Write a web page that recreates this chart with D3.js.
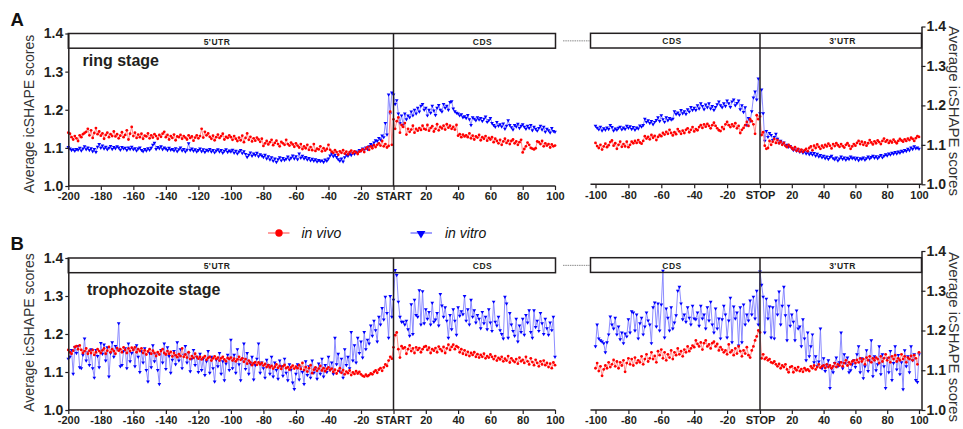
<!DOCTYPE html>
<html><head><meta charset="utf-8">
<script src="https://cdn.jsdelivr.net/npm/d3@7"></script>
<style>body{margin:0;background:#fff}svg{display:block;font-family:"Liberation Sans",Arial,sans-serif}</style>
</head><body><svg id="c" width="963" height="429"></svg>
<script>
// ---------------- data ----------------
const startPositions = d3.range(-200, 101);   // nt relative to START codon
const stopPositions = d3.range(-100, 101);    // nt relative to STOP codon
const startTicks = [-200,-180,-160,-140,-120,-100,-80,-60,-40,-20,0,20,40,60,80,100];
const startTickLabels = ["-200","-180","-160","-140","-120","-100","-80","-60","-40","-20","START","20","40","60","80","100"];
const stopTicks = [-100,-80,-60,-40,-20,0,20,40,60,80,100];
const stopTickLabels = ["-100","-80","-60","-40","-20","STOP","20","40","60","80","100"];
const yTicks = [1.0,1.1,1.2,1.3,1.4];
const startRegions = ["5'UTR","CDS"];
const stopRegions = ["CDS","3'UTR"];
const stageNames = ["ring stage","trophozoite stage"];
const panelLetters = ["A","B"];
const seriesNames = ["in vivo","in vitro"];
const yTitle = "Average icSHAPE scores";

const ringVivoStart = [
1.140,1.137,1.128,1.122,1.131,1.125,1.118,1.133,1.128,1.136,1.139,1.142,1.150,1.133,1.146,1.126,1.139,1.152,1.136,1.143,
1.132,1.138,1.124,1.134,1.140,1.128,1.136,1.131,1.143,1.130,1.136,1.125,1.132,1.141,1.128,1.134,1.146,1.122,1.137,1.155,
1.131,1.140,1.126,1.135,1.128,1.137,1.124,1.132,1.130,1.138,1.125,1.133,1.127,1.136,1.131,1.124,1.134,1.129,1.137,1.142,
1.128,1.134,1.122,1.131,1.126,1.135,1.120,1.130,1.128,1.134,1.124,1.131,1.127,1.122,1.133,1.126,1.130,1.119,1.127,1.133,
1.125,1.131,1.150,1.127,1.142,1.133,1.138,1.129,1.124,1.132,1.120,1.128,1.135,1.126,1.131,1.137,1.122,1.129,1.126,1.133,
1.128,1.121,1.131,1.124,1.118,1.127,1.120,1.132,1.115,1.126,1.138,1.121,1.129,1.117,1.125,1.119,1.127,1.122,1.116,1.124,
1.105,1.112,1.118,1.109,1.115,1.121,1.107,1.113,1.119,1.110,1.104,1.116,1.112,1.108,1.121,1.110,1.106,1.114,1.109,1.103,
1.112,1.106,1.101,1.110,1.097,1.104,1.099,1.108,1.095,1.102,1.094,1.110,1.092,1.098,1.096,1.104,1.091,1.099,1.093,1.097,
1.108,1.095,1.090,1.087,1.094,1.089,1.082,1.091,1.087,1.094,1.085,1.090,1.083,1.089,1.093,1.086,1.091,1.088,1.084,1.090,
1.092,1.096,1.089,1.098,1.102,1.095,1.104,1.099,1.107,1.102,1.108,1.112,1.106,1.118,1.104,1.110,1.101,1.105,1.195,1.108,
1.175,1.150,1.170,1.180,1.140,1.160,1.155,1.165,1.135,1.150,1.142,1.148,1.158,1.140,1.150,1.145,1.152,1.147,1.158,1.150,
1.148,1.160,1.145,1.152,1.157,1.143,1.150,1.162,1.146,1.155,1.151,1.158,1.148,1.162,1.153,1.158,1.150,1.155,1.148,1.160,
1.132,1.136,1.128,1.135,1.130,1.133,1.128,1.138,1.125,1.132,1.122,1.130,1.127,1.134,1.120,1.128,1.124,1.131,1.119,1.126,
1.122,1.128,1.115,1.124,1.118,1.112,1.121,1.108,1.117,1.124,1.113,1.119,1.110,1.118,1.122,1.112,1.117,1.108,1.115,1.121,
1.088,1.097,1.104,1.114,1.108,1.100,1.098,1.096,1.099,1.117,1.115,1.110,1.118,1.104,1.112,1.106,1.110,1.101,1.109,1.104,1.106];

const ringVitroStart = [
1.102,1.098,1.094,1.096,1.092,1.097,1.095,1.100,1.093,1.098,1.104,1.096,1.101,1.094,1.099,1.091,1.097,1.089,1.103,1.110,
1.100,1.106,1.098,1.103,1.096,1.100,1.105,1.097,1.102,1.099,1.104,1.101,1.095,1.102,1.098,1.100,1.094,1.101,1.097,1.103,
1.096,1.099,1.093,1.098,1.101,1.094,1.091,1.097,1.093,1.099,1.095,1.100,1.108,1.113,1.097,1.102,1.099,1.104,1.096,1.101,
1.098,1.094,1.100,1.095,1.097,1.093,1.099,1.091,1.096,1.101,1.093,1.097,1.090,1.095,1.112,1.094,1.098,1.092,1.096,1.090,
1.094,1.098,1.091,1.096,1.089,1.095,1.092,1.097,1.090,1.094,1.088,1.093,1.096,1.090,1.094,1.087,1.092,1.096,1.089,1.093,
1.090,1.095,1.087,1.092,1.085,1.090,1.094,1.086,1.091,1.084,1.076,1.082,1.088,1.079,1.085,1.081,1.087,1.078,1.083,1.080,
1.076,1.082,1.072,1.078,1.069,1.075,1.066,1.072,1.063,1.070,1.075,1.067,1.073,1.068,1.071,1.077,1.069,1.074,1.080,1.072,
1.078,1.070,1.085,1.074,1.079,1.072,1.076,1.069,1.073,1.067,1.071,1.066,1.070,1.064,1.068,1.065,1.067,1.063,1.069,1.066,
1.072,1.080,1.085,1.078,1.082,1.076,1.070,1.066,1.072,1.064,1.075,1.082,1.079,1.085,1.081,1.087,1.084,1.090,1.088,1.094,
1.092,1.098,1.094,1.101,1.097,1.104,1.110,1.106,1.114,1.120,1.118,1.126,1.122,1.132,1.128,1.165,1.135,1.240,1.190,1.245,
1.240,1.215,1.225,1.190,1.165,1.185,1.160,1.190,1.175,1.185,1.180,1.195,1.185,1.200,1.190,1.205,1.195,1.210,1.215,1.200,
1.205,1.185,1.200,1.192,1.210,1.198,1.186,1.205,1.212,1.200,1.195,1.215,1.205,1.210,1.200,1.220,1.222,1.203,1.196,1.192,
1.190,1.185,1.188,1.180,1.183,1.178,1.186,1.175,1.160,1.180,1.176,1.172,1.180,1.174,1.178,1.170,1.176,1.182,1.168,1.172,
1.178,1.165,1.160,1.155,1.168,1.158,1.162,1.156,1.164,1.150,1.158,1.172,1.160,1.154,1.148,1.160,1.156,1.163,1.152,1.158,
1.162,1.155,1.150,1.158,1.152,1.160,1.146,1.155,1.150,1.145,1.152,1.158,1.148,1.155,1.142,1.150,1.146,1.140,1.152,1.144,1.142];

const ringVivoStop = [
1.105,1.097,1.092,1.100,1.088,1.096,1.103,1.094,1.099,1.107,1.111,1.098,1.104,1.090,1.100,1.108,1.095,1.102,1.096,1.108,
1.094,1.100,1.108,1.104,1.110,1.105,1.112,1.106,1.103,1.110,1.122,1.116,1.120,1.114,1.125,1.118,1.123,1.112,1.120,1.125,
1.122,1.130,1.126,1.133,1.128,1.138,1.130,1.124,1.132,1.127,1.140,1.134,1.128,1.136,1.130,1.138,1.142,1.132,1.138,1.145,
1.134,1.140,1.137,1.145,1.150,1.143,1.152,1.146,1.153,1.148,1.142,1.150,1.156,1.148,1.142,1.137,1.135,1.145,1.140,1.152,
1.158,1.150,1.145,1.152,1.147,1.155,1.142,1.148,1.130,1.138,1.143,1.150,1.158,1.148,1.165,1.160,1.152,1.128,1.175,1.165,
1.172,1.125,1.132,1.098,1.090,1.092,1.110,1.100,1.108,1.115,1.105,1.112,1.104,1.108,1.100,1.105,1.098,1.094,1.100,1.096,
1.092,1.088,1.094,1.085,1.090,1.083,1.088,1.082,1.086,1.090,1.084,1.092,1.096,1.086,1.098,1.092,1.101,1.095,1.090,1.098,
1.093,1.100,1.096,1.103,1.098,1.091,1.102,1.097,1.104,1.099,1.095,1.102,1.097,1.093,1.100,1.104,1.098,1.090,1.096,1.102,
1.098,1.105,1.110,1.102,1.108,1.100,1.106,1.098,1.104,1.112,1.106,1.101,1.109,1.104,1.111,1.107,1.102,1.110,1.116,1.108,
1.112,1.105,1.110,1.106,1.113,1.108,1.104,1.110,1.115,1.111,1.108,1.114,1.110,1.116,1.112,1.118,1.115,1.110,1.117,1.122,1.120];

const ringVitroStop = [
1.148,1.143,1.139,1.146,1.136,1.142,1.138,1.144,1.140,1.150,1.145,1.136,1.141,1.138,1.143,1.146,1.139,1.144,1.140,1.148,
1.143,1.147,1.140,1.145,1.138,1.144,1.141,1.149,1.146,1.150,1.166,1.158,1.162,1.155,1.160,1.152,1.158,1.163,1.170,1.160,
1.175,1.165,1.158,1.170,1.162,1.168,1.164,1.166,1.185,1.178,1.182,1.176,1.188,1.180,1.185,1.178,1.190,1.184,1.196,1.188,
1.194,1.188,1.200,1.192,1.205,1.198,1.190,1.202,1.195,1.205,1.192,1.198,1.188,1.196,1.203,1.210,1.200,1.195,1.205,1.198,
1.212,1.205,1.196,1.210,1.215,1.200,1.206,1.212,1.190,1.200,1.183,1.195,1.150,1.168,1.160,1.185,1.220,1.235,1.215,1.268,
1.180,1.240,1.180,1.110,1.135,1.120,1.130,1.125,1.112,1.120,1.128,1.115,1.105,1.110,1.102,1.106,1.098,1.100,1.095,1.097,
1.092,1.087,1.090,1.085,1.088,1.082,1.086,1.080,1.084,1.078,1.082,1.076,1.080,1.075,1.079,1.072,1.077,1.070,1.074,1.068,
1.072,1.066,1.070,1.064,1.069,1.072,1.066,1.063,1.068,1.060,1.065,1.070,1.064,1.068,1.062,1.067,1.064,1.070,1.066,1.068,
1.063,1.067,1.061,1.066,1.064,1.068,1.062,1.066,1.070,1.065,1.069,1.072,1.067,1.071,1.066,1.070,1.074,1.068,1.072,1.076,
1.073,1.078,1.075,1.080,1.077,1.082,1.078,1.083,1.080,1.085,1.082,1.087,1.084,1.090,1.086,1.093,1.089,1.096,1.091,1.093,1.090];

const trophVivoStart = [
1.158,1.152,1.148,1.156,1.166,1.168,1.160,1.170,1.158,1.150,1.155,1.162,1.148,1.156,1.150,1.158,1.145,1.152,1.160,1.155,
1.150,1.157,1.162,1.148,1.156,1.166,1.152,1.160,1.155,1.148,1.163,1.156,1.160,1.152,1.165,1.158,1.150,1.162,1.155,1.164,
1.158,1.165,1.152,1.160,1.155,1.162,1.150,1.157,1.146,1.154,1.160,1.148,1.156,1.150,1.142,1.152,1.146,1.155,1.160,1.150,
1.146,1.155,1.148,1.153,1.141,1.150,1.144,1.139,1.147,1.142,1.162,1.140,1.146,1.138,1.152,1.134,1.142,1.137,1.148,1.140,
1.135,1.140,1.133,1.138,1.142,1.132,1.137,1.140,1.130,1.136,1.141,1.134,1.138,1.130,1.136,1.140,1.133,1.128,1.137,1.134,
1.138,1.130,1.135,1.128,1.133,1.140,1.132,1.136,1.127,1.134,1.122,1.130,1.125,1.118,1.123,1.126,1.119,1.125,1.120,1.124,
1.117,1.121,1.113,1.118,1.112,1.116,1.109,1.114,1.120,1.111,1.116,1.108,1.115,1.119,1.110,1.113,1.106,1.112,1.117,1.109,
1.114,1.110,1.118,1.108,1.124,1.105,1.113,1.101,1.110,1.118,1.097,1.106,1.112,1.103,1.109,1.116,1.104,1.110,1.102,1.108,
1.112,1.105,1.109,1.100,1.106,1.096,1.103,1.110,1.098,1.105,1.094,1.101,1.097,1.104,1.092,1.099,1.095,1.102,1.096,1.100,
1.094,1.090,1.088,1.093,1.089,1.092,1.096,1.094,1.100,1.104,1.098,1.106,1.110,1.103,1.112,1.120,1.116,1.130,1.140,1.135,
1.165,1.197,1.204,1.160,1.138,1.168,1.162,1.165,1.148,1.160,1.170,1.155,1.162,1.150,1.165,1.158,1.163,1.152,1.160,1.166,
1.168,1.158,1.164,1.150,1.160,1.156,1.163,1.152,1.167,1.160,1.155,1.166,1.150,1.162,1.172,1.158,1.166,1.172,1.160,1.168,
1.165,1.152,1.160,1.148,1.157,1.145,1.153,1.142,1.150,1.145,1.152,1.140,1.147,1.138,1.145,1.140,1.148,1.136,1.142,1.138,
1.146,1.140,1.134,1.142,1.130,1.137,1.133,1.140,1.128,1.135,1.130,1.142,1.125,1.136,1.130,1.126,1.134,1.122,1.138,1.128,
1.132,1.124,1.140,1.128,1.120,1.136,1.126,1.118,1.132,1.124,1.115,1.128,1.120,1.130,1.118,1.124,1.113,1.122,1.110,1.125,1.118];

const trophVitroStart = [
1.135,1.140,1.158,1.095,1.165,1.150,1.168,1.112,1.110,1.145,1.188,1.130,1.152,1.118,1.160,1.110,1.085,1.158,1.142,1.112,
1.176,1.148,1.172,1.130,1.165,1.088,1.150,1.178,1.140,1.168,1.160,1.228,1.115,1.118,1.155,1.162,1.110,1.175,1.128,1.150,
1.160,1.115,1.170,1.140,1.100,1.155,1.125,1.162,1.105,1.075,1.150,1.112,1.170,1.128,1.146,1.105,1.068,1.158,1.125,1.175,
1.108,1.165,1.142,1.098,1.132,1.155,1.120,1.178,1.130,1.160,1.110,1.145,1.168,1.125,1.150,1.102,1.135,1.158,1.118,1.140,
1.100,1.148,1.105,1.135,1.092,1.128,1.155,1.098,1.140,1.110,1.075,1.132,1.115,1.150,1.095,1.128,1.078,1.122,1.145,1.105,
1.185,1.110,1.145,1.098,1.160,1.120,1.078,1.135,1.175,1.108,1.150,1.095,1.122,1.140,1.080,1.118,1.135,1.175,1.098,1.125,
1.110,1.085,1.132,1.118,1.095,1.140,1.088,1.125,1.105,1.082,1.130,1.115,1.090,1.135,1.098,1.078,1.120,1.106,1.072,1.055,
1.095,1.120,1.080,1.112,1.100,1.068,1.128,1.092,1.115,1.085,1.130,1.098,1.110,1.082,1.122,1.095,1.135,1.088,1.118,1.100,
1.140,1.105,1.125,1.095,1.190,1.120,1.148,1.102,1.135,1.085,1.160,1.118,1.140,1.110,1.205,1.130,1.170,1.125,1.190,1.150,
1.180,1.138,1.205,1.160,1.185,1.175,1.222,1.195,1.235,1.210,1.180,1.245,1.225,1.268,1.238,1.298,1.255,1.190,1.300,1.245,
1.290,1.368,1.355,1.285,1.245,1.232,1.232,1.225,1.235,1.212,1.195,1.278,1.200,1.290,1.250,1.245,1.315,1.225,1.312,1.228,
1.265,1.240,1.258,1.225,1.282,1.232,1.238,1.255,1.222,1.305,1.275,1.245,1.270,1.235,1.190,1.250,1.212,1.265,1.235,1.198,
1.270,1.248,1.260,1.252,1.300,1.235,1.265,1.225,1.290,1.245,1.262,1.230,1.250,1.240,1.215,1.258,1.228,1.245,1.212,1.265,
1.230,1.208,1.285,1.232,1.222,1.245,1.210,1.200,1.188,1.298,1.280,1.190,1.255,1.225,1.208,1.195,1.240,1.180,1.222,1.205,
1.240,1.198,1.250,1.230,1.262,1.205,1.190,1.262,1.218,1.235,1.208,1.255,1.228,1.200,1.240,1.215,1.198,1.230,1.210,1.245,1.140];

const trophVivoStop = [
1.105,1.118,1.098,1.110,1.086,1.102,1.112,1.105,1.120,1.108,1.115,1.126,1.110,1.122,1.105,1.120,1.112,1.125,1.096,1.118,
1.130,1.115,1.128,1.112,1.132,1.118,1.125,1.120,1.135,1.115,1.128,1.140,1.122,1.130,1.145,1.128,1.136,1.120,1.148,1.138,
1.152,1.130,1.145,1.125,1.140,1.132,1.150,1.128,1.145,1.138,1.155,1.140,1.148,1.135,1.152,1.145,1.160,1.148,1.155,1.162,
1.158,1.175,1.166,1.160,1.170,1.152,1.168,1.175,1.160,1.165,1.155,1.168,1.172,1.160,1.166,1.150,1.158,1.152,1.145,1.150,
1.140,1.165,1.145,1.150,1.138,1.155,1.142,1.160,1.148,1.135,1.150,1.142,1.158,1.138,1.132,1.150,1.160,1.175,1.185,1.200,
1.195,1.130,1.140,1.128,1.132,1.125,1.128,1.120,1.118,1.122,1.115,1.110,1.116,1.105,1.112,1.108,1.115,1.102,1.095,1.108,
1.110,1.095,1.105,1.100,1.108,1.098,1.103,1.096,1.105,1.100,1.102,1.098,1.110,1.105,1.112,1.102,1.108,1.115,1.106,1.110,
1.112,1.106,1.115,1.108,1.112,1.105,1.110,1.118,1.108,1.115,1.112,1.120,1.110,1.118,1.125,1.112,1.120,1.115,1.122,1.125,
1.118,1.126,1.120,1.130,1.122,1.128,1.115,1.132,1.125,1.135,1.120,1.130,1.125,1.132,1.128,1.118,1.135,1.122,1.130,1.140,
1.125,1.132,1.120,1.135,1.128,1.138,1.122,1.130,1.125,1.140,1.128,1.135,1.120,1.132,1.128,1.136,1.125,1.138,1.130,1.115,1.145];

const trophVitroStop = [
1.160,1.215,1.180,1.175,1.172,1.168,1.145,1.170,1.190,1.235,1.215,1.205,1.232,1.190,1.210,1.178,1.195,1.168,1.192,1.185,
1.228,1.195,1.248,1.245,1.200,1.240,1.180,1.218,1.232,1.190,1.210,1.245,1.225,1.215,1.168,1.258,1.270,1.210,1.268,1.200,
1.265,1.350,1.182,1.255,1.232,1.200,1.258,1.205,1.220,1.238,1.300,1.310,1.268,1.228,1.240,1.222,1.258,1.232,1.215,1.262,
1.230,1.228,1.245,1.212,1.262,1.230,1.240,1.205,1.258,1.225,1.272,1.215,1.195,1.255,1.205,1.230,1.180,1.228,1.262,1.240,
1.182,1.225,1.282,1.170,1.260,1.230,1.245,1.162,1.258,1.170,1.265,1.215,1.240,1.225,1.275,1.240,1.285,1.230,1.300,1.215,
1.348,1.315,1.285,1.195,1.280,1.230,1.260,1.182,1.258,1.180,1.275,1.240,1.298,1.215,1.262,1.310,1.238,1.175,1.262,1.212,
1.240,1.222,1.175,1.250,1.205,1.210,1.160,1.228,1.180,1.125,1.195,1.135,1.160,1.190,1.120,1.135,1.110,1.122,1.205,1.105,
1.130,1.098,1.112,1.125,1.055,1.105,1.095,1.118,1.132,1.110,1.120,1.195,1.105,1.140,1.118,1.132,1.095,1.100,1.115,1.125,
1.108,1.140,1.160,1.095,1.130,1.080,1.110,1.150,1.098,1.125,1.175,1.085,1.135,1.100,1.115,1.160,1.090,1.140,1.110,1.055,
1.130,1.095,1.148,1.075,1.118,1.160,1.102,1.138,1.090,1.120,1.052,1.150,1.110,1.135,1.095,1.160,1.125,1.140,1.075,1.070,1.140];

// ---------------- drawing ----------------
const ink = "#231f20";
const colVivo = "#ff0000", colVivoLine = "#ff8080";
const colVitro = "#0000ff", colVitroLine = "#8080ff";
const svg = d3.select("#c");

const xL = d3.scaleLinear().domain([-200,0,100]).range([68.3,393.5,555]);
const xR = d3.scaleLinear().domain([-100,0,100]).range([595.5,760,919]);
const leftEdge = 68.3, leftEnd = 555.5, rightStart = 590.5, rightAxisX = 921.5;

const panels = [
  {top:33.5, bot:186, topR:26.5, botR:184.3, boxR:33.3, letterY:26, stageX:82.5, stageY:65.5, titleLY:114, titleRY:111,
   vivoS:ringVivoStart, vitroS:ringVitroStart, vivoE:ringVivoStop, vitroE:ringVitroStop},
  {top:258, bot:410, topR:251, botR:410, boxR:257.7, letterY:250, stageX:87, stageY:295, titleLY:332.5, titleRY:337,
   vivoS:trophVivoStart, vitroS:trophVitroStart, vivoE:trophVivoStop, vitroE:trophVitroStop}
];

const tri = d3.symbol().type(d3.symbolTriangle).size(6);
const triLegend = d3.symbol().type(d3.symbolTriangle).size(34);

function drawSeries(g, xs, positions, values, y, lineCol, markCol, isVitro) {
  const pts = values.map((v,i)=>[xs(positions[i]), y(v)]);
  g.append("path").attr("d", d3.line()(pts)).attr("fill","none")
    .attr("stroke", lineCol).attr("stroke-width", 0.9);
  if (isVitro) {
    g.append("g").selectAll("path").data(pts).join("path")
      .attr("d", tri).attr("fill", markCol)
      .attr("transform", d=>`translate(${d[0]},${d[1]}) rotate(180)`);
  } else {
    g.append("g").selectAll("circle").data(pts).join("circle")
      .attr("cx", d=>d[0]).attr("cy", d=>d[1]).attr("r", 1.4).attr("fill", markCol);
  }
}

function styleAxis(g, fs) {
  g.selectAll(".domain").attr("stroke", ink).attr("stroke-width", 1.5);
  g.selectAll(".tick line").attr("stroke", ink).attr("stroke-width", 1.2);
  g.selectAll(".tick text").attr("fill", ink).attr("font-weight", "bold")
    .attr("font-size", fs).attr("font-family", '"Liberation Sans",Arial,sans-serif');
}

panels.forEach((p, pi) => {
  const yL = d3.scaleLinear().domain([1.0,1.4]).range([p.bot, p.top]);
  const yR = d3.scaleLinear().domain([1.0,1.4]).range([p.botR, p.topR]);
  const g = svg.append("g");

  drawSeries(g, xL, startPositions, p.vitroS, yL, colVitroLine, colVitro, true);
  drawSeries(g, xL, startPositions, p.vivoS, yL, colVivoLine, colVivo, false);
  drawSeries(g, xR, stopPositions, p.vitroE, yR, colVitroLine, colVitro, true);
  drawSeries(g, xR, stopPositions, p.vivoE, yR, colVivoLine, colVivo, false);

  const bh = 14.7;
  g.append("rect").attr("x", leftEdge).attr("y", p.top).attr("width", leftEnd-leftEdge).attr("height", bh)
    .attr("fill","none").attr("stroke", ink).attr("stroke-width", 1.5);
  g.append("line").attr("x1", xL(0)).attr("x2", xL(0)).attr("y1", p.top).attr("y2", p.bot)
    .attr("stroke", ink).attr("stroke-width", 1.5);
  g.append("rect").attr("x", rightStart).attr("y", p.boxR).attr("width", rightAxisX-rightStart).attr("height", bh)
    .attr("fill","none").attr("stroke", ink).attr("stroke-width", 1.5);
  g.append("line").attr("x1", xR(0)).attr("x2", xR(0)).attr("y1", p.boxR).attr("y2", p.botR)
    .attr("stroke", ink).attr("stroke-width", 1.5);
  g.append("line").attr("x1", 563).attr("x2", rightStart).attr("y1", p.top+bh/2).attr("y2", p.top+bh/2)
    .attr("stroke", "#8a8a8a").attr("stroke-width", 1).attr("stroke-dasharray", "1.5,0.8");

  const regionFont = {"font-size":"8.5px","font-weight":"bold","letter-spacing":"0.5px","fill":ink,"text-anchor":"middle"};
  const rl = [[217, p.top, startRegions[0]],[482.5, p.top, startRegions[1]],[672, p.boxR, stopRegions[0]],[842.5, p.boxR, stopRegions[1]]];
  rl.forEach(r => {
    const t = g.append("text").attr("x", r[0]).attr("y", r[1]+11).text(r[2]);
    Object.entries(regionFont).forEach(([k,v])=>t.attr(k,v));
  });

  const gxL = g.append("g").attr("transform", `translate(0,${p.bot})`)
    .call(d3.axisBottom(xL).tickValues(startTicks).tickFormat((d,i)=>startTickLabels[i])
      .tickSize(4).tickSizeOuter(0).tickPadding(2.5));
  gxL.select(".domain").remove();
  g.append("line").attr("x1", leftEdge).attr("x2", leftEnd).attr("y1", p.bot).attr("y2", p.bot)
    .attr("stroke", ink).attr("stroke-width", 1.5);
  styleAxis(gxL, "11px");

  const gxR = g.append("g").attr("transform", `translate(0,${p.botR})`)
    .call(d3.axisBottom(xR).tickValues(stopTicks).tickFormat((d,i)=>stopTickLabels[i])
      .tickSize(4).tickSizeOuter(0).tickPadding(2.5));
  gxR.select(".domain").remove();
  g.append("line").attr("x1", rightStart).attr("x2", rightAxisX).attr("y1", p.botR).attr("y2", p.botR)
    .attr("stroke", ink).attr("stroke-width", 1.5);
  styleAxis(gxR, "11px");

  const gyL = g.append("g").attr("transform", `translate(${leftEdge},0)`)
    .call(d3.axisLeft(yL).tickValues(yTicks).tickFormat(d3.format(".1f")).tickSize(3).tickSizeOuter(0).tickPadding(2));
  styleAxis(gyL, "14px");
  const gyR = g.append("g").attr("transform", `translate(${rightAxisX},0)`)
    .call(d3.axisRight(yR).tickValues(yTicks).tickFormat(d3.format(".1f")).tickSize(4).tickSizeOuter(0).tickPadding(1));
  styleAxis(gyR, "14px");

  g.append("text").attr("transform", `translate(34,${p.titleLY}) rotate(-90)`)
    .attr("text-anchor","middle").attr("font-size","14px").attr("fill","#333").text(yTitle);
  g.append("text").attr("transform", `translate(949,${p.titleRY}) rotate(90)`)
    .attr("text-anchor","middle").attr("font-size","15px").attr("fill","#333").text(yTitle);

  g.append("text").attr("x", 10.5).attr("y", p.letterY).attr("font-size","18.5px").attr("font-weight","bold")
    .attr("fill", "#111").text(panelLetters[pi]);
  g.append("text").attr("x", p.stageX).attr("y", p.stageY).attr("font-size","16px").attr("font-weight","bold")
    .attr("fill", ink).text(stageNames[pi]);
});

const lg = svg.append("g");
lg.append("line").attr("x1",268).attr("x2",289.5).attr("y1",233).attr("y2",233).attr("stroke",colVivoLine).attr("stroke-width",1.5);
lg.append("circle").attr("cx",279).attr("cy",233).attr("r",3.7).attr("fill",colVivo);
lg.append("text").attr("x",301.5).attr("y",238).attr("font-size","14px").attr("font-style","italic").attr("fill","#111").text(seriesNames[0]);
lg.append("line").attr("x1",410.5).attr("x2",432).attr("y1",233).attr("y2",233).attr("stroke",colVitroLine).attr("stroke-width",1.5);
lg.append("path").attr("d",triLegend).attr("fill",colVitro).attr("transform","translate(421,233.5) rotate(180)");
lg.append("text").attr("x",445).attr("y",238).attr("font-size","14px").attr("font-style","italic").attr("fill","#111").text(seriesNames[1]);
</script>
</body></html>
